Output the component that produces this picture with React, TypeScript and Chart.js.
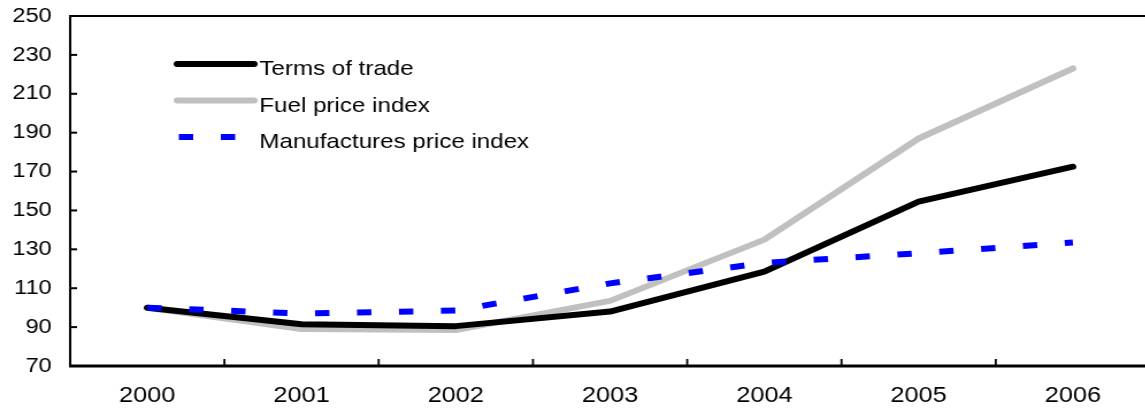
import { useEffect, useRef } from "react";
import { Chart, registerables } from "chart.js";

Chart.register(...registerables);

const years = ["2000", "2001", "2002", "2003", "2004", "2005", "2006"];
const termsOfTrade = [100, 91.5, 90.5, 98, 118.5, 154.5, 172.5];
const fuelPriceIndex = [100, 89, 88.5, 103.5, 135, 187, 223];
const manufacturesPriceIndex = [100, 97, 98.5, 112.5, 123, 128, 133.5];
const seriesLabels = ["Terms of trade", "Fuel price index", "Manufactures price index"];
const yMin = 70;
const yMax = 250;
const yStep = 20;

const SX = 1.15;
const CW = 1000;
const CH = 410;
const FONT = "'Liberation Sans', Arial, sans-serif";

export default function App() {
  const ref = useRef<HTMLCanvasElement>(null);

  useEffect(() => {
    const decor = {
      id: "decor",
      afterDraw(chart: any) {
        const ctx = chart.ctx as CanvasRenderingContext2D;
        const { left, right, top, bottom } = chart.chartArea;
        const xs = chart.scales.x;
        const ys = chart.scales.y;
        ctx.save();
        ctx.strokeStyle = "#000";
        ctx.lineCap = "butt";
        // top line
        ctx.lineWidth = 2;
        ctx.beginPath();
        ctx.moveTo(left, top);
        ctx.lineTo(right, top);
        ctx.stroke();
        // x axis
        ctx.lineWidth = 3;
        ctx.beginPath();
        ctx.moveTo(left - 1, bottom);
        ctx.lineTo(right, bottom);
        ctx.stroke();
        // y axis
        ctx.lineWidth = 2;
        ctx.beginPath();
        ctx.moveTo(left, top - 1);
        ctx.lineTo(left, bottom + 1);
        ctx.stroke();
        // y ticks inward
        ctx.lineWidth = 2;
        for (let v = yMin + yStep; v < yMax; v += yStep) {
          const py = ys.getPixelForValue(v);
          ctx.beginPath();
          ctx.moveTo(left, py);
          ctx.lineTo(left + 6, py);
          ctx.stroke();
        }
        // x ticks inward between categories
        ctx.lineWidth = 1.8;
        for (let i = 0; i < years.length - 1; i++) {
          const px = (xs.getPixelForValue(i) + xs.getPixelForValue(i + 1)) / 2;
          ctx.beginPath();
          ctx.moveTo(px, bottom);
          ctx.lineTo(px, bottom - 7);
          ctx.stroke();
        }
        // legend
        const dsets = chart.data.datasets;
        dsets.forEach((ds: any, i: number) => {
          const ly = 64 + i * 36.5;
          ctx.save();
          ctx.strokeStyle = ds.borderColor;
          ctx.lineWidth = ds.borderWidth;
          ctx.lineCap = ds.borderCapStyle || "butt";
          ctx.setLineDash(ds.borderDash || []);
          const x0 = ds.borderDash ? 155.5 : 154;
          ctx.beginPath();
          ctx.moveTo(x0, ly);
          ctx.lineTo(221, ly);
          ctx.stroke();
          ctx.restore();
          ctx.fillStyle = "#000";
          ctx.font = `21px ${FONT}`;
          ctx.textAlign = "left";
          ctx.textBaseline = "alphabetic";
          ctx.fillText(ds.label, 225.5, ly + 11);
        });
        ctx.restore();
      },
    };

    const chart = new Chart(ref.current as HTMLCanvasElement, {
      type: "line",
      data: {
        labels: years,
        datasets: [
          {
            label: seriesLabels[0],
            data: termsOfTrade,
            borderColor: "#000000",
            borderWidth: 6,
            borderCapStyle: "round",
            borderJoinStyle: "round",
            pointRadius: 0,
            tension: 0,
            order: 1,
          },
          {
            label: seriesLabels[1],
            data: fuelPriceIndex,
            borderColor: "#C0C0C0",
            borderWidth: 6,
            borderCapStyle: "round",
            borderJoinStyle: "round",
            pointRadius: 0,
            tension: 0,
            order: 2,
          },
          {
            label: seriesLabels[2],
            data: manufacturesPriceIndex,
            borderColor: "#0000FF",
            borderWidth: 6,
            borderDash: [12.5, 24],
            borderCapStyle: "butt",
            borderJoinStyle: "miter",
            pointRadius: 0,
            tension: 0,
            order: 0,
          },
        ],
      },
      options: {
        animation: false,
        responsive: false,
        maintainAspectRatio: false,
        devicePixelRatio: 1,
        layout: { padding: { top: 16, right: 0, bottom: 0, left: 0 } },
        plugins: {
          legend: { display: false },
          tooltip: { enabled: false },
          title: { display: false },
        },
        scales: {
          x: {
            type: "category",
            offset: true,
            grid: { display: false, drawTicks: false, offset: true },
            border: { display: false },
            ticks: {
              color: "#000",
              font: { family: FONT, size: 22 },
              padding: 17,
              maxRotation: 0,
              autoSkip: false,
            },
            afterFit: (s: any) => {
              s.height = 44;
              s.paddingLeft = 0;
              s.paddingRight = 0;
            },
          },
          y: {
            min: yMin,
            max: yMax,
            grid: { display: false, drawTicks: false },
            border: { display: false },
            ticks: {
              stepSize: yStep,
              color: "#000",
              font: { family: FONT, size: 20.5 },
              padding: 16,
            },
            afterFit: (s: any) => {
              s.width = 61;
              s.paddingTop = 0;
              s.paddingBottom = 0;
            },
          },
        },
      },
      plugins: [decor],
    } as any);

    return () => chart.destroy();
  }, []);

  return (
    <div
      style={{
        position: "fixed",
        left: 0,
        top: 0,
        width: 1145,
        height: 410,
        overflow: "hidden",
        background: "#fff",
      }}
    >
      <div style={{ width: CW, height: CH, transform: `scaleX(${SX})`, transformOrigin: "0 0" }}>
        <canvas ref={ref} width={CW} height={CH} style={{ display: "block" }} />
      </div>
    </div>
  );
}
